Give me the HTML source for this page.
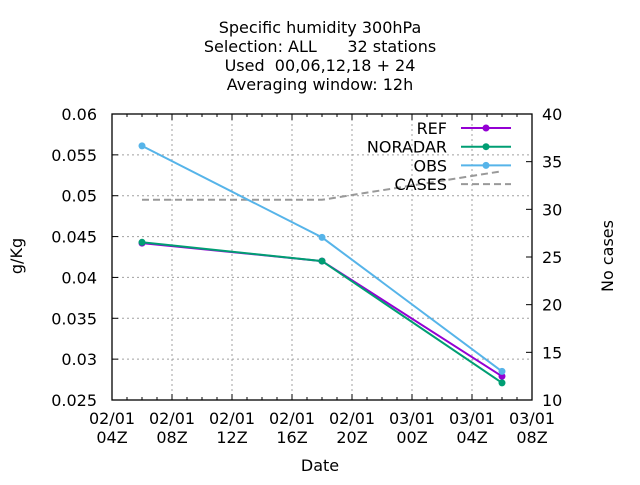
<!DOCTYPE html>
<html><head><meta charset="utf-8"><style>
body{margin:0;background:#fff}
svg text{font-family:"DejaVu Sans","Liberation Sans",sans-serif;font-size:16px;fill:#000;white-space:pre}
</style></head><body>
<svg id="c" width="640" height="480" xmlns="http://www.w3.org/2000/svg">
<g text-anchor="middle">
<text x="320" y="33">Specific humidity 300hPa</text>
<text x="320" y="52" xml:space="preserve">Selection: ALL      32 stations</text>
<text x="320" y="71" xml:space="preserve">Used  00,06,12,18 + 24</text>
<text x="320" y="90">Averaging window: 12h</text>
</g>
<g id="grid"></g>
<g id="axes"></g>
<g id="series"></g>
<text x="320" y="471" text-anchor="middle">Date</text>
<text transform="translate(22,256) rotate(-90)" text-anchor="middle">g/Kg</text>
<text transform="translate(613,256) rotate(-90)" text-anchor="middle">No cases</text>
<g id="legend"></g>
</svg>
<script>
const hours=[2,14,26];
const ref=[0.0442,0.0420,0.0279];
const noradar=[0.0443,0.0420,0.0271];
const obs=[0.0561,0.0449,0.0285];
const cases=[31,31,34];
const yTicks=[0.025,0.03,0.035,0.04,0.045,0.05,0.055,0.06];
const yTickLabels=["0.025","0.03","0.035","0.04","0.045","0.05","0.055","0.06"];
const y2Ticks=[10,15,20,25,30,35,40];
const xTicks=[0,4,8,12,16,20,24,28];
const xTickLabels=[["02/01","04Z"],["02/01","08Z"],["02/01","12Z"],["02/01","16Z"],["02/01","20Z"],["03/01","00Z"],["03/01","04Z"],["03/01","08Z"]];
const L=112,R=532,T=114,B=400;
const X=h=>L+(R-L)*h/28;
const Y=v=>B-(B-T)*(v-0.025)/0.035;
const Y2=v=>B-(B-T)*(v-10)/30;
const NS="http://www.w3.org/2000/svg";
function mk(tag,attrs,parent){const e=document.createElementNS(NS,tag);for(const k in attrs)e.setAttribute(k,attrs[k]);parent.appendChild(e);return e;}
const grid=document.getElementById('grid'),axes=document.getElementById('axes'),ser=document.getElementById('series'),leg=document.getElementById('legend');
xTicks.forEach((h,i)=>{
 if(i>0&&i<xTicks.length-1){const g=mk('line',{x1:X(h),x2:X(h),y1:T,y2:B,stroke:'#a0a0a0','stroke-dasharray':'2,3'},grid);}
 const t=mk('text',{x:X(h),y:424,'text-anchor':'middle'},axes);
 
 mk('tspan',{x:X(h),dy:0},t).textContent=xTickLabels[i][0];
 mk('tspan',{x:X(h),dy:19},t).textContent=xTickLabels[i][1];
 mk('line',{x1:X(h),x2:X(h),y1:B,y2:B-6,stroke:'#000'},axes);
 mk('line',{x1:X(h),x2:X(h),y1:T,y2:T+6,stroke:'#000'},axes);
 if(i<xTicks.length-1){[1,2,3].forEach(k=>{const xm=X(h+k);mk('line',{x1:xm,x2:xm,y1:B,y2:B-3,stroke:'#000'},axes);mk('line',{x1:xm,x2:xm,y1:T,y2:T+3,stroke:'#000'},axes);});}
});
yTicks.forEach((v,i)=>{
 if(i>0&&i<yTicks.length-1){const g=mk('line',{x1:L,x2:R,y1:Y(v),y2:Y(v),stroke:'#a0a0a0','stroke-dasharray':'2,3'},grid);}
 mk('line',{x1:L,x2:L+6,y1:Y(v),y2:Y(v),stroke:'#000'},axes);
 const t=mk('text',{x:97,y:Y(v)+6,'text-anchor':'end'},axes);t.textContent=yTickLabels[i];
 
});
y2Ticks.forEach(v=>{
 mk('line',{x1:R,x2:R-6,y1:Y2(v),y2:Y2(v),stroke:'#000'},axes);
 const t=mk('text',{x:542,y:Y2(v)+6},axes);t.textContent=String(v);
 
});
const frame=mk('rect',{x:L,y:T,width:R-L,height:B-T,fill:'none',stroke:'#000','stroke-width':1.3},axes);

const cl=mk('polyline',{points:hours.map((h,i)=>X(h)+','+Y2(cases[i])).join(' '),fill:'none',stroke:'#999','stroke-width':2,'stroke-dasharray':'7,4'},ser);

const S=[["REF",ref,'#9400d3'],["NORADAR",noradar,'#009e73'],["OBS",obs,'#56b4e9']];
S.forEach(([n,d,c])=>{
 const pl=mk('polyline',{points:hours.map((h,i)=>X(h)+','+Y(d[i])).join(' '),fill:'none',stroke:c,'stroke-width':2},ser);
 
 hours.forEach((h,i)=>{const p=mk('circle',{cx:X(h),cy:Y(d[i]),r:3.5,fill:c},ser);});
});
const legRows=[["REF",'#9400d3',0],["NORADAR",'#009e73',0],["OBS",'#56b4e9',0],["CASES",'#999',1]];
legRows.forEach(([n,c,dash],i)=>{
 const y=128+i*18.7;
 const t=mk('text',{x:447,y:y+6,'text-anchor':'end'},leg);t.textContent=n;
 
 const ln=mk('line',{x1:461,x2:511,y1:y,y2:y,stroke:c,'stroke-width':2},leg);
 if(dash)ln.setAttribute('stroke-dasharray','7,4');else mk('circle',{cx:486,cy:y,r:3.5,fill:c},leg);
 
});
</script>
</body></html>
